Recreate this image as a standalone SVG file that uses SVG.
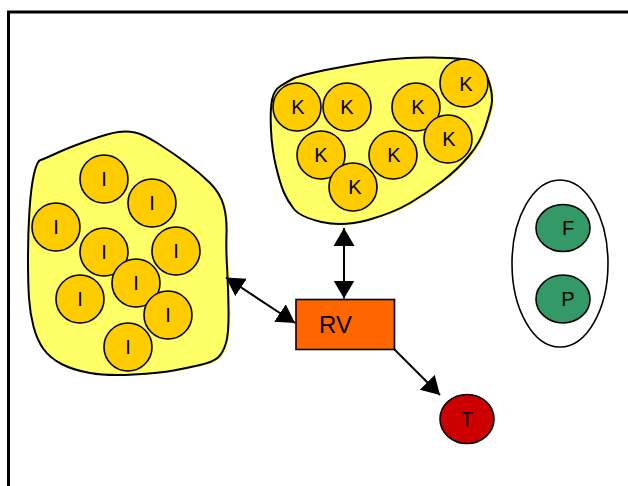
<svg xmlns="http://www.w3.org/2000/svg" width="628" height="486" viewBox="0 0 628 486">
  <style>
    .frame { fill: none; stroke: #000; stroke-width: 3; }
    .blob { fill: #FFFF66; stroke: #000; stroke-width: 2; stroke-linejoin: round; }
    .blob-fill { fill: #FFFF66; stroke: none; }
    .cell { fill: #FFCC00; stroke: #000; stroke-width: 1.6; }
    .green { fill: #339966; stroke: #000; stroke-width: 1.6; }
    .outline { fill: #fff; stroke: #000; stroke-width: 1.6; }
    .label { font-family: "Liberation Sans", Arial, sans-serif; font-size: 20px; fill: #000; text-anchor: middle; dominant-baseline: central; }
    .rv-label { font-family: "Liberation Sans", Arial, sans-serif; font-size: 24px; fill: #000; }
    .conn { stroke: #000; stroke-width: 2; fill: none; }
  </style>
  <defs>
    <marker id="head" markerUnits="userSpaceOnUse" markerWidth="20" markerHeight="22" refX="18" refY="10.5" orient="auto-start-reverse" viewBox="0 0 20 22">
      <path d="M0,0 L18,10.5 L0,21 Z" fill="#000"/>
    </marker>
    <path id="blobI" d="M40.5,160 Q44,159 57,153 Q70,147 90,140 Q110,133 118.5,132 Q127,131 135,132.5 Q143,134 158,143.5 Q173,153 186.5,163 Q200,173 210,183 Q220,193 223.5,205 Q227,217 226.5,233.5 Q226,250 227,266.5 Q228,283 228.5,308 Q229,333 226,343 Q223,353 218,357.5 Q213,362 200,365 Q187,368 173.5,370.5 Q160,373 133.5,374.5 Q107,376 90,373 Q73,370 61.5,364 Q50,358 43.5,349 Q37,340 33.5,326.5 Q30,313 29,298 Q28,283 28,258 Q28,233 29.5,210 Q31,187 34,174 Q37,161 40.5,160 Z"/>
    <path id="blobK" d="M293.5,78.5 Q300,75 333.5,68.5 Q367,62 388.5,59.5 Q410,57 433.5,57.5 Q457,58 465,59.5 Q473,61 480,67 Q487,73 490,85 Q493,97 491.5,105 Q490,113 485,128 Q480,143 468.5,156.5 Q457,170 442,181.5 Q427,193 410,203 Q393,213 368,220 Q343,227 321.5,222 Q300,217 293.5,208.5 Q287,200 283.5,191.5 Q280,183 276,166.5 Q272,150 271,130 Q270,110 272,100 Q274,90 280.5,86 Q287,82 293.5,78.5 Z"/>
  </defs>

  <!-- outer frame -->
  <rect class="frame" x="8.5" y="12" width="640" height="500"/>

  <!-- cluster of I cells -->
  <g id="cluster-i">
    <use href="#blobI" class="blob-fill" transform="translate(2,1)"/>
    <use href="#blobI" class="blob"/>
    <g id="i1"><circle class="cell" cx="104" cy="179" r="24"/><text class="label" x="104" y="179">I</text></g>
    <g id="i2"><circle class="cell" cx="152" cy="203" r="24"/><text class="label" x="152" y="203">I</text></g>
    <g id="i3"><circle class="cell" cx="56" cy="227" r="24"/><text class="label" x="56" y="227">I</text></g>
    <g id="i4"><circle class="cell" cx="104" cy="252" r="24"/><text class="label" x="104" y="252">I</text></g>
    <g id="i5"><circle class="cell" cx="176" cy="251" r="24"/><text class="label" x="176" y="251">I</text></g>
    <g id="i7"><circle class="cell" cx="80" cy="299" r="24"/><text class="label" x="80" y="299">I</text></g>
    <g id="i6"><circle class="cell" cx="136" cy="283" r="24"/><text class="label" x="136" y="283">I</text></g>
    <g id="i8"><circle class="cell" cx="168" cy="315" r="24"/><text class="label" x="168" y="315">I</text></g>
    <g id="i9"><circle class="cell" cx="128" cy="347" r="24"/><text class="label" x="128" y="347">I</text></g>
  </g>

  <!-- cluster of K cells -->
  <g id="cluster-k">
    <use href="#blobK" class="blob-fill" transform="translate(2,1)"/>
    <use href="#blobK" class="blob"/>
    <g id="k1"><circle class="cell" cx="297" cy="107" r="24"/><text class="label" x="298" y="107">K</text></g>
    <g id="k2"><circle class="cell" cx="347" cy="107" r="24"/><text class="label" x="347" y="107">K</text></g>
    <g id="k3"><circle class="cell" cx="416" cy="107" r="24"/><text class="label" x="418" y="107">K</text></g>
    <g id="k4"><circle class="cell" cx="464" cy="83" r="24"/><text class="label" x="466" y="84">K</text></g>
    <g id="k5"><circle class="cell" cx="448" cy="139" r="24"/><text class="label" x="449" y="139">K</text></g>
    <g id="k6"><circle class="cell" cx="393" cy="155" r="24"/><text class="label" x="394" y="155">K</text></g>
    <g id="k7"><circle class="cell" cx="321" cy="155" r="24"/><text class="label" x="321" y="155">K</text></g>
    <g id="k8"><circle class="cell" cx="353" cy="187" r="24"/><text class="label" x="355" y="187">K</text></g>
  </g>

  <!-- F / P group -->
  <g id="group-fp">
    <ellipse class="outline" cx="560" cy="263.5" rx="48" ry="83.5"/>
    <g id="f"><ellipse class="green" cx="563" cy="228" rx="27" ry="23.5"/><text class="label" x="568" y="228">F</text></g>
    <g id="p"><ellipse class="green" cx="563" cy="299" rx="27" ry="24"/><text class="label" x="568" y="299">P</text></g>
  </g>

  <!-- RV node -->
  <g id="rv">
    <rect x="296" y="299.5" width="98.5" height="50" fill="#FF6600" stroke="#000" stroke-width="1.6"/>
    <text class="rv-label" x="319" y="333">RV</text>
  </g>

  <!-- T node -->
  <g id="t">
    <ellipse cx="467" cy="419" rx="27" ry="24.5" fill="#CC0000" stroke="#000" stroke-width="1.6"/>
    <text class="label" x="467" y="419">T</text>
  </g>

  <!-- connectors -->
  <g id="connectors">
    <line class="conn" x1="226" y1="277.5" x2="295" y2="323" marker-start="url(#head)" marker-end="url(#head)"/>
    <line class="conn" x1="344" y1="228" x2="344" y2="298.5" marker-start="url(#head)" marker-end="url(#head)"/>
    <line class="conn" x1="394" y1="349" x2="440" y2="395" marker-end="url(#head)"/>
  </g>
</svg>
